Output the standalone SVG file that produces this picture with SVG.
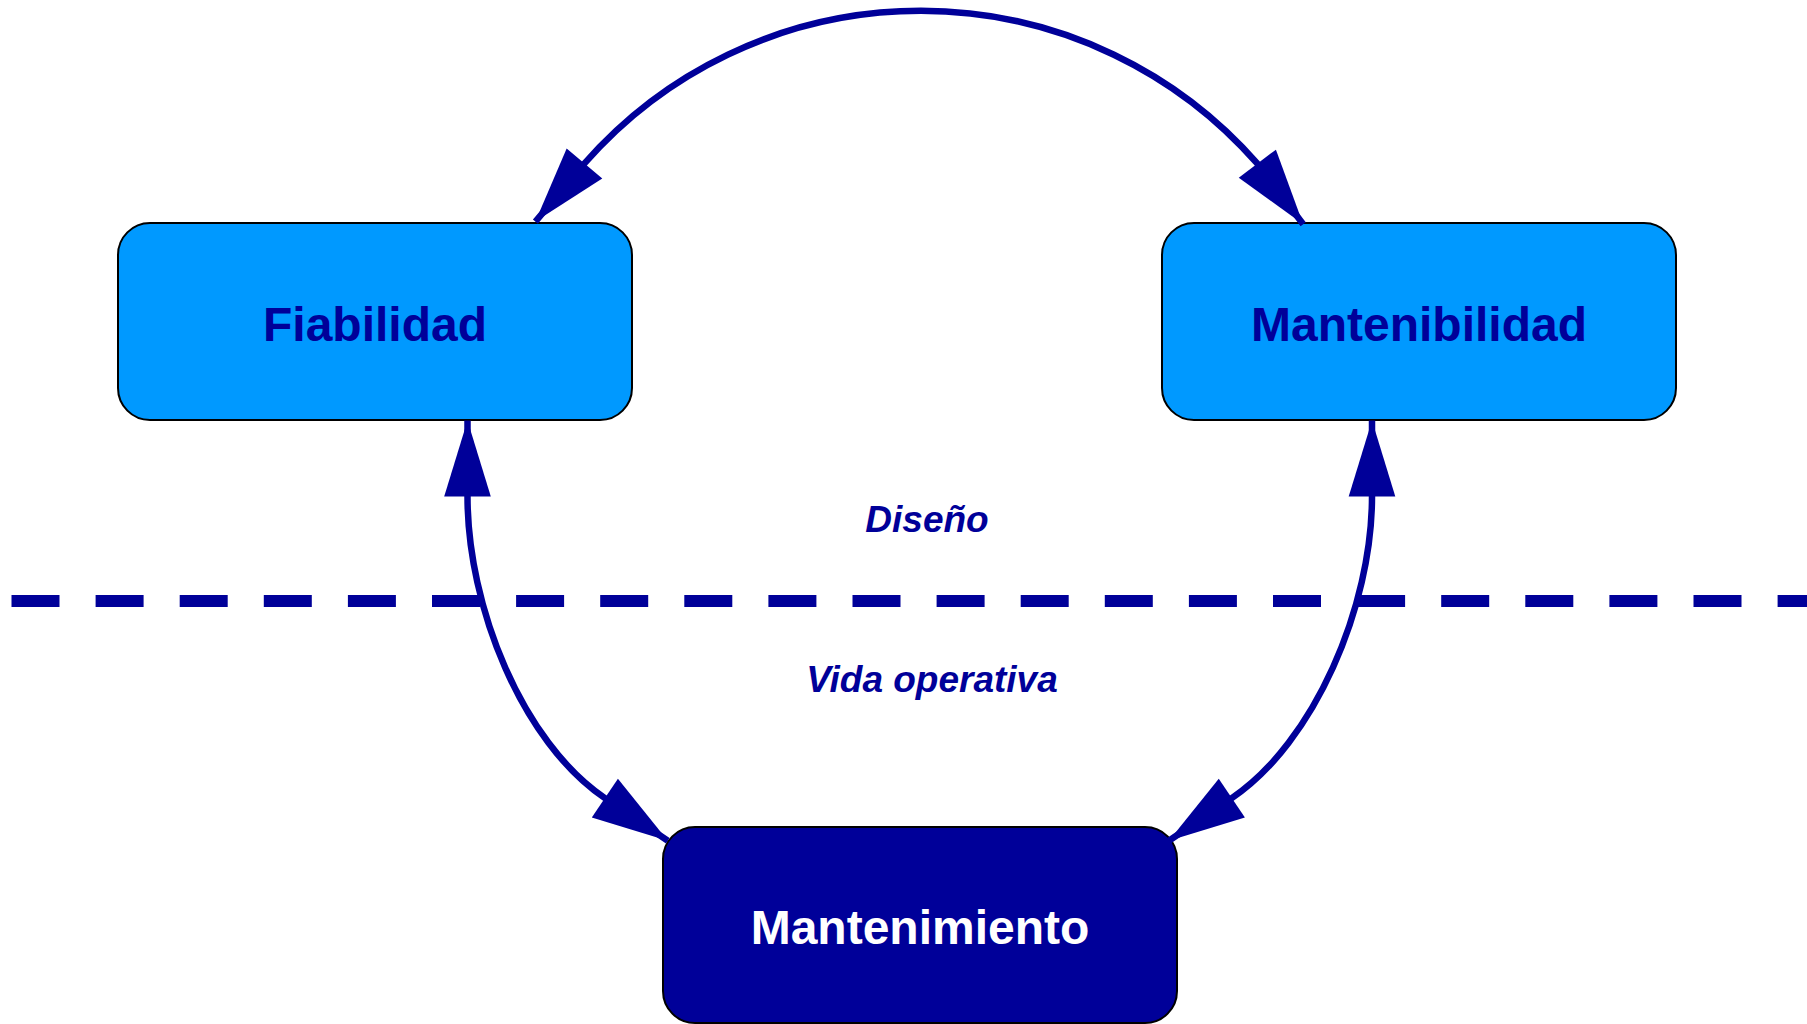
<svg xmlns="http://www.w3.org/2000/svg" xmlns:xlink="http://www.w3.org/1999/xlink" width="1807" height="1024" viewBox="0 0 1807 1024">
  <style>
    .box { stroke: #000000; stroke-width: 2; }
    .light { fill: #0099FF; }
    .dark { fill: #000099; }
    .lbl { font-family: "Liberation Sans", Arial, sans-serif; font-weight: bold; font-size: 48px; text-anchor: middle; }
    .phase { font-family: "Liberation Sans", Arial, sans-serif; font-weight: bold; font-style: italic; font-size: 37px; text-anchor: middle; fill: #000099; }
    .conn { fill: none; stroke: #000099; stroke-width: 6.5; }
    .sep { fill: none; stroke: #000099; stroke-width: 12; stroke-dasharray: 48 36.1; }
  </style>
  <defs>
    <path id="ah" d="M0,0 L-76,-23.3 L-76,23.3 Z" fill="#000099"/>
  </defs>
  <rect width="1807" height="1024" fill="#ffffff"/>

  <g id="separator">
    <line class="sep" x1="11.5" y1="601" x2="1807" y2="601"/>
    <text class="phase" x="927" y="532">Diseño</text>
    <text class="phase" x="932" y="692">Vida operativa</text>
  </g>

  <g id="node-fiabilidad">
    <rect class="box light" x="118" y="223" width="514" height="197" rx="32" ry="32"/>
    <text class="lbl" x="375" y="341" fill="#000099">Fiabilidad</text>
  </g>
  <g id="node-mantenibilidad">
    <rect class="box light" x="1162" y="223" width="514" height="197" rx="32" ry="32"/>
    <text class="lbl" x="1419" y="341" fill="#000099">Mantenibilidad</text>
  </g>
  <g id="node-mantenimiento">
    <rect class="box dark" x="663" y="827" width="514" height="196" rx="32" ry="32"/>
    <text class="lbl" x="920" y="944" fill="#ffffff">Mantenimiento</text>
  </g>

  <g id="connectors">
    <path class="conn" d="M535.4,221.6 L584.4,163.5 A447,447 0 0 1 1257.4,163.7 L1303.2,224.3"/>
    <path class="conn" d="M467.5,420.5 L467.5,496.5 C467.5,606.5 522.1,742.0 604.9,798.1 L667.8,840.7"/>
    <path class="conn" d="M1372,420.5 L1372,496.5 C1372,606.5 1314.6,742.0 1231.8,798.1 L1168.9,840.7"/>
    <use xlink:href="#ah" transform="translate(535.4,221.6) rotate(130.2)"/>
    <use xlink:href="#ah" transform="translate(1303.2,224.3) rotate(52.9)"/>
    <use xlink:href="#ah" transform="translate(467.5,420.5) rotate(-90)"/>
    <use xlink:href="#ah" transform="translate(667.8,840.7) rotate(34.1)"/>
    <use xlink:href="#ah" transform="translate(1372,420.5) rotate(-90)"/>
    <use xlink:href="#ah" transform="translate(1168.9,840.7) rotate(145.9)"/>
  </g>
</svg>
